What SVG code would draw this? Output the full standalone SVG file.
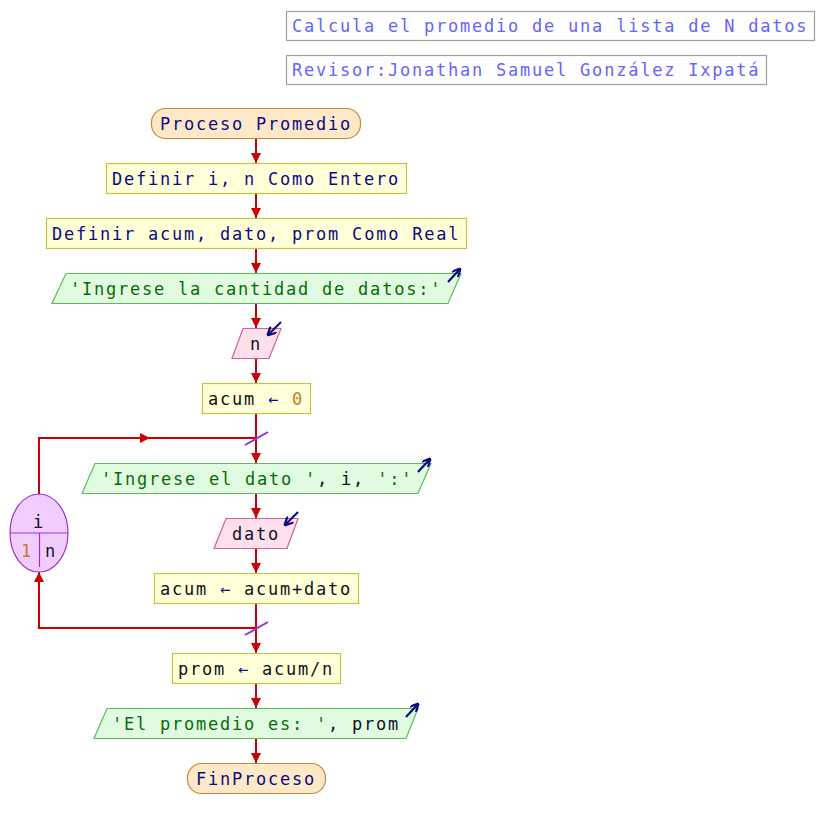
<svg xmlns="http://www.w3.org/2000/svg" width="824" height="828" viewBox="0 0 824 828">
  <style>
    text { font-family: "DejaVu Sans Mono", "Liberation Mono", monospace; font-size: 17px; letter-spacing: 1.77px; }
    .title rect { fill: #ffffff; stroke: #a0a0a0; stroke-width: 1.2; }
    .title text { fill: #6464ff; }
    .term { fill: #fde9c8; stroke: #c8883a; stroke-width: 1.2; }
    .proc { fill: #ffffd8; stroke: #c8c23c; stroke-width: 1.2; }
    .out { fill: #e0fbe0; stroke: #5cbc5c; stroke-width: 1.2; }
    .in { fill: #fde0ec; stroke: #d0609a; stroke-width: 1.2; }
    .loop { fill: #f0ccff; stroke: #9933cc; stroke-width: 1.2; }
    .kw { fill: #0c0c80; }
    .id { fill: #101020; }
    .num { fill: #c87a30; }
    .str { fill: #0a6a0a; }
    .edge { stroke: #cc0000; stroke-width: 2; fill: none; }
    .slash { stroke: #9933cc; stroke-width: 2; }
    .io { stroke: #0c0c80; stroke-width: 2.2; fill: none; }
  </style>
  <defs>
    <marker id="ah" viewBox="0 0 10 10" refX="10" refY="5" markerWidth="5.5" markerHeight="5" orient="auto" markerUnits="strokeWidth">
      <path d="M0,0 L10,5 L0,10 z" fill="#cc0000"/>
    </marker>
    <marker id="ioh" viewBox="0 0 10 10" refX="9" refY="5" markerWidth="4" markerHeight="4" orient="auto" markerUnits="strokeWidth">
      <path d="M0,0 L10,5 L0,10" fill="none" stroke="#0c0c80" stroke-width="2.5"/>
    </marker>
  </defs>

  <!-- header notes -->
  <g id="title1" class="title">
    <rect x="286.5" y="11.5" width="528" height="29"/>
    <text x="292" y="32">Calcula el promedio de una lista de N datos</text>
  </g>
  <g id="title2" class="title">
    <rect x="286.5" y="55.5" width="480" height="29"/>
    <text x="292" y="76">Revisor:Jonathan Samuel González Ixpatá</text>
  </g>

  <!-- connectors -->
  <g id="connectors">
    <path class="edge" marker-end="url(#ah)" d="M256,138 V163"/>
    <path class="edge" marker-end="url(#ah)" d="M256,193 V218"/>
    <path class="edge" marker-end="url(#ah)" d="M256,248 V273"/>
    <path class="edge" marker-end="url(#ah)" d="M256,303 V328"/>
    <path class="edge" marker-end="url(#ah)" d="M256,358 V383"/>
    <path class="edge" marker-end="url(#ah)" d="M256,413 V463"/>
    <path class="edge" marker-end="url(#ah)" d="M256,493 V518"/>
    <path class="edge" marker-end="url(#ah)" d="M256,548 V573"/>
    <path class="edge" marker-end="url(#ah)" d="M256,603 V653"/>
    <path class="edge" marker-end="url(#ah)" d="M256,683 V708"/>
    <path class="edge" marker-end="url(#ah)" d="M256,738 V763"/>
    <!-- loop back edges -->
    <path class="edge" d="M39,494 V438 H256"/>
    <path class="edge" marker-end="url(#ah)" d="M39,438 H150"/>
    <path class="edge" marker-end="url(#ah)" d="M256,628 H39 V572"/>
    <line class="slash" x1="245" y1="445" x2="268" y2="432"/>
    <line class="slash" x1="245" y1="635" x2="268" y2="622"/>
  </g>

  <g id="start">
    <rect class="term" x="151.5" y="108.5" width="209" height="30" rx="14" ry="14"/>
    <text class="kw" x="160" y="130">Proceso Promedio</text>
  </g>

  <g id="def1">
    <rect class="proc" x="106.5" y="163.5" width="300" height="30"/>
    <text class="kw" x="112" y="185">Definir i, n Como Entero</text>
  </g>

  <g id="def2">
    <rect class="proc" x="46.5" y="218.5" width="420" height="30"/>
    <text class="kw" x="52" y="240">Definir acum, dato, prom Como Real</text>
  </g>

  <g id="out1">
    <polygon class="out" points="66,273.5 461,273.5 448,303.5 52,303.5"/>
    <text class="str" x="70" y="295">'Ingrese la cantidad de datos:'</text>
    <path class="io" marker-end="url(#ioh)" d="M448,282 L460,269"/>
  </g>

  <g id="in1">
    <polygon class="in" points="243,328.5 281,328.5 269,358.5 232,358.5"/>
    <text class="id" x="250" y="350">n</text>
    <path class="io" marker-end="url(#ioh)" d="M281,322 L268,335"/>
  </g>

  <g id="init">
    <rect class="proc" x="202.5" y="383.5" width="108" height="30"/>
    <text x="208" y="405"><tspan class="id">acum </tspan><tspan class="kw">← </tspan><tspan class="num">0</tspan></text>
  </g>

  <g id="for">
    <ellipse class="loop" cx="39" cy="533" rx="29" ry="39"/>
    <line x1="10" y1="533" x2="68" y2="533" stroke="#9933cc" stroke-width="1.2"/>
    <line x1="39.5" y1="533" x2="39.5" y2="567" stroke="#9933cc" stroke-width="1.2"/>
    <text class="id" x="33" y="528">i</text>
    <text class="num" x="21" y="557">1</text>
    <text class="id" x="45" y="557">n</text>
  </g>

  <g id="out2">
    <polygon class="out" points="95,463.5 431,463.5 418,493.5 82,493.5"/>
    <text x="101" y="485"><tspan class="str">'Ingrese el dato '</tspan><tspan class="id">, i, </tspan><tspan class="str">':'</tspan></text>
    <path class="io" marker-end="url(#ioh)" d="M418,472 L430,459"/>
  </g>

  <g id="in2">
    <polygon class="in" points="226,518.5 298,518.5 287,548.5 214,548.5"/>
    <text class="id" x="232" y="540">dato</text>
    <path class="io" marker-end="url(#ioh)" d="M298,512 L285,525"/>
  </g>

  <g id="accum">
    <rect class="proc" x="154.5" y="573.5" width="204" height="30"/>
    <text x="160" y="595"><tspan class="id">acum </tspan><tspan class="kw">← </tspan><tspan class="id">acum+dato</tspan></text>
  </g>

  <g id="avg">
    <rect class="proc" x="172.5" y="653.5" width="168" height="30"/>
    <text x="178" y="675"><tspan class="id">prom </tspan><tspan class="kw">← </tspan><tspan class="id">acum/n</tspan></text>
  </g>

  <g id="out3">
    <polygon class="out" points="107,708.5 418,708.5 406,738.5 94,738.5"/>
    <text x="112" y="730"><tspan class="str">'El promedio es: '</tspan><tspan class="id">, prom</tspan></text>
    <path class="io" marker-end="url(#ioh)" d="M406,717 L418,704"/>
  </g>

  <g id="end">
    <rect class="term" x="187.5" y="763.5" width="138" height="30" rx="14" ry="14"/>
    <text class="kw" x="196" y="785">FinProceso</text>
  </g>
</svg>
